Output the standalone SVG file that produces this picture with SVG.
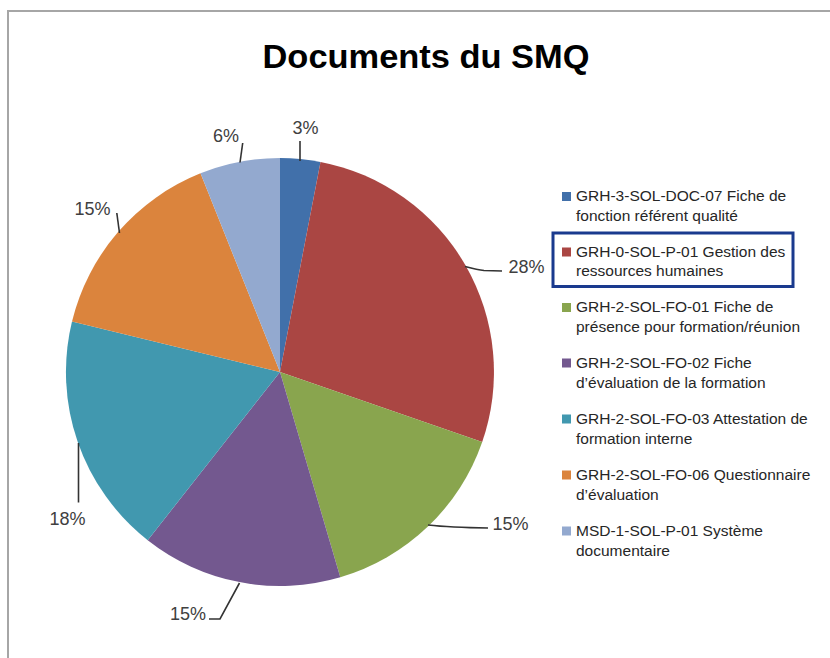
<svg xmlns="http://www.w3.org/2000/svg" width="830" height="658" viewBox="0 0 830 658">
<style>
.title{font-family:"Liberation Sans",Arial,sans-serif;font-weight:bold;font-size:34px;fill:#000}
.pct{font-family:"Liberation Sans",Arial,sans-serif;font-size:18px;fill:#404040}
.leg{font-family:"Liberation Sans",Arial,sans-serif;font-size:15.5px;fill:#262626}
.lead{fill:none;stroke:#333;stroke-width:1.6}
</style>
<rect width="830" height="658" fill="#fff"/>
<path d="M8,662 V11 H834" fill="none" stroke="#a6a6a6" stroke-width="2"/>
<text class="title" x="426" y="68" text-anchor="middle" textLength="327" lengthAdjust="spacingAndGlyphs">Documents du SMQ</text>
<g id="pie">
<g id="s1"><path d="M280,372 L280,158 A214,214 0 0 1 320.5,161.9 Z" fill="#4170AA"/></g>
<g id="s2"><path d="M280,372 L320.5,161.9 A214,214 0 0 1 482.2,442 Z" fill="#AA4643"/></g>
<g id="s3"><path d="M280,372 L482.2,442 A214,214 0 0 1 340.3,577.3 Z" fill="#89A54E"/></g>
<g id="s4"><path d="M280,372 L340.3,577.3 A214,214 0 0 1 147.7,540.2 Z" fill="#73588F"/></g>
<g id="s5"><path d="M280,372 L147.7,540.2 A214,214 0 0 1 72,321.5 Z" fill="#4198AF"/></g>
<g id="s6"><path d="M280,372 L72,321.5 A214,214 0 0 1 200.5,173.3 Z" fill="#DB843D"/></g>
<g id="s7"><path d="M280,372 L200.5,173.3 A214,214 0 0 1 280,158 Z" fill="#93A9CF"/></g>
</g>
<g id="connectors">
<path class="lead" d="M300,161 V141"/>
<path class="lead" d="M465,266.5 Q478,270 484,270.5 L502,271"/>
<path class="lead" d="M428,525 Q450,527.5 488,528"/>
<path class="lead" d="M239.5,583 L220,619 H209"/>
<path class="lead" d="M78.5,502.5 V443"/>
<path class="lead" d="M119.5,233 L116.8,213"/>
<path class="lead" d="M240,162.5 L242.7,143"/>
</g>
<g id="labels">
<text class="pct" x="305.5" y="134" text-anchor="middle">3%</text>
<text class="pct" x="526.5" y="272.5" text-anchor="middle">28%</text>
<text class="pct" x="510.5" y="529.5" text-anchor="middle">15%</text>
<text class="pct" x="188" y="620" text-anchor="middle">15%</text>
<text class="pct" x="67.5" y="525" text-anchor="middle">18%</text>
<text class="pct" x="92.5" y="215" text-anchor="middle">15%</text>
<text class="pct" x="226" y="141.5" text-anchor="middle">6%</text>
</g>
<g id="legend">
<rect x="553" y="233" width="240" height="53.5" fill="none" stroke="#1A3A8E" stroke-width="3"/>
<g id="leg1"><rect x="562" y="192" width="9" height="9" fill="#4170AA"/><text class="leg" x="576" y="201">GRH-3-SOL-DOC-07 Fiche de</text><text class="leg" x="576" y="220.5">fonction référent qualité</text></g>
<g id="leg2"><rect x="562" y="247.5" width="9" height="9" fill="#AA4643"/><text class="leg" x="576" y="256.5">GRH-0-SOL-P-01 Gestion des</text><text class="leg" x="576" y="276">ressources humaines</text></g>
<g id="leg3"><rect x="562" y="303" width="9" height="9" fill="#89A54E"/><text class="leg" x="576" y="312">GRH-2-SOL-FO-01 Fiche de</text><text class="leg" x="576" y="331.5">présence pour formation/réunion</text></g>
<g id="leg4"><rect x="562" y="358.5" width="9" height="9" fill="#73588F"/><text class="leg" x="576" y="367.5">GRH-2-SOL-FO-02 Fiche</text><text class="leg" x="576" y="387.5">d’évaluation de la formation</text></g>
<g id="leg5"><rect x="562" y="414.5" width="9" height="9" fill="#4198AF"/><text class="leg" x="576" y="423.5">GRH-2-SOL-FO-03 Attestation de</text><text class="leg" x="576" y="443.5">formation interne</text></g>
<g id="leg6"><rect x="562" y="470.5" width="9" height="9" fill="#DB843D"/><text class="leg" x="576" y="479.5">GRH-2-SOL-FO-06 Questionnaire</text><text class="leg" x="576" y="499.5">d’évaluation</text></g>
<g id="leg7"><rect x="562" y="526.5" width="9" height="9" fill="#93A9CF"/><text class="leg" x="576" y="535.5">MSD-1-SOL-P-01 Système</text><text class="leg" x="576" y="555.5">documentaire</text></g>
</g>
</svg>
